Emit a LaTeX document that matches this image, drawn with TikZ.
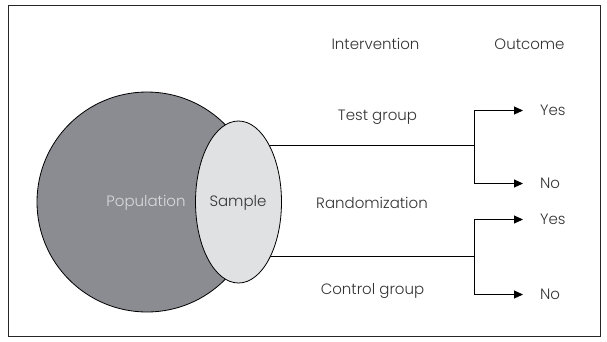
\documentclass[tikz,border=0pt]{standalone}
\usepackage{fontspec}
\setmainfont{Poppins Light}
\usetikzlibrary{arrows.meta,shapes.geometric}
\definecolor{popfill}{HTML}{8A8C91}
\definecolor{sampfill}{HTML}{E0E1E3}
\definecolor{ink}{HTML}{333333}
\definecolor{popink}{HTML}{DADADA}
\pgfdeclarelayer{bg}
\pgfsetlayers{bg,main}
\begin{document}
\begin{tikzpicture}[x=1pt,y=-1pt,
  lbl/.style={text=ink,font=\fontsize{15}{17}\selectfont,inner sep=2pt},
  branch/.style={draw=black,line width=0.9pt},
  tip/.style={-{Triangle[length=9pt,width=8pt]}}]
  \useasboundingbox (0,0) rectangle (607,341);
  \draw[line width=0.9pt,draw=black!85] (8,5) rectangle (600,336);

  % population and sample
  \node[circle,draw=black,line width=0.8pt,fill=popfill,minimum size=220pt,inner sep=0pt] (pop) at (147,202) {};
  \node[ellipse,draw=black,line width=0.8pt,fill=sampfill,minimum width=86pt,minimum height=162pt,inner sep=0pt] (samp) at (238.5,202) {};
  \node[lbl,text=popink] (poplbl) at (146,203) {Population};
  \node[lbl] (samplbl) at (238,203) {Sample};

  % branch points
  \coordinate (b1) at (474,145);
  \coordinate (b2) at (474,256.5);
  \begin{pgfonlayer}{bg}
    \draw[branch] (samp.center |- b1) -- (b1);
    \draw[branch] (samp.center |- b2) -- (b2);
  \end{pgfonlayer}

  % column headings and group labels
  \node[lbl] (interv) at (375.5,44) {Intervention};
  \node[lbl] (outc) at (529.5,44) {Outcome};
  \node[lbl] (test) at (377.5,117) {Test group};
  \node[lbl] (rand) at (372,203) {Randomization};
  \node[lbl] (ctrl) at (372.5,291) {Control group};

  % outcomes
  \node[lbl,anchor=west] (yes1) at (538,110.5) {Yes};
  \node[lbl,anchor=west] (no1) at (538,183.5) {No};
  \node[lbl,anchor=west] (yes2) at (538,219.5) {Yes};
  \node[lbl,anchor=west] (no2) at (538,294.5) {No};

  \draw[branch,tip] (b1) |- ([xshift=-15pt]yes1.west);
  \draw[branch,tip] (b1) |- ([xshift=-15pt]no1.west);
  \draw[branch,tip] (b2) |- ([xshift=-15pt]yes2.west);
  \draw[branch,tip] (b2) |- ([xshift=-15pt]no2.west);
\end{tikzpicture}
\end{document}
